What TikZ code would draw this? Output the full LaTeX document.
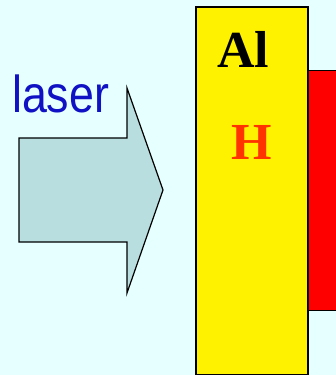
\documentclass[tikz,border=0pt]{standalone}
\usepackage{fontspec}
\setmainfont{Liberation Serif}
\newfontfamily\lasersans{Liberation Sans}
\definecolor{bgc}{RGB}{230,255,255}
\definecolor{arrowc}{RGB}{185,222,224}
\definecolor{laserc}{RGB}{16,16,196}
\definecolor{hc}{RGB}{255,51,0}
\begin{document}
\begin{tikzpicture}[x=1pt,y=-1pt,
  lbl/.style={inner sep=0pt,anchor=base west},
  slab/.style={draw=black,line width=1.5pt}]
\fill[bgc] (0,0) rectangle (336,375);
\useasboundingbox (0,0) rectangle (336,375);
% red layer
\filldraw[fill=red,draw=black,line width=1pt] (307,70) rectangle (340,310);
% yellow layer
\node[slab,fill=yellow,minimum width=112pt,minimum height=368pt,anchor=north west,inner sep=0pt] (al) at (195,6) {};
% arrow
\filldraw[fill=arrowc,draw=black,line width=1.2pt,line join=miter]
  (19,138) -- (127,138) -- (127,88) -- (163,190) -- (127,293) -- (127,242) -- (19,242) -- cycle;
\node[lbl,font=\lasersans\fontsize{52}{52}\selectfont,text=laserc,xscale=0.86] (laser) at (12,112) {laser};
\node[lbl,font=\bfseries\fontsize{52}{52}\selectfont,text=black] (altext) at (217,67) {Al};
\node[lbl,font=\bfseries\fontsize{52}{52}\selectfont,text=hc] (htext) at (231,159) {H};
\end{tikzpicture}
\end{document}
